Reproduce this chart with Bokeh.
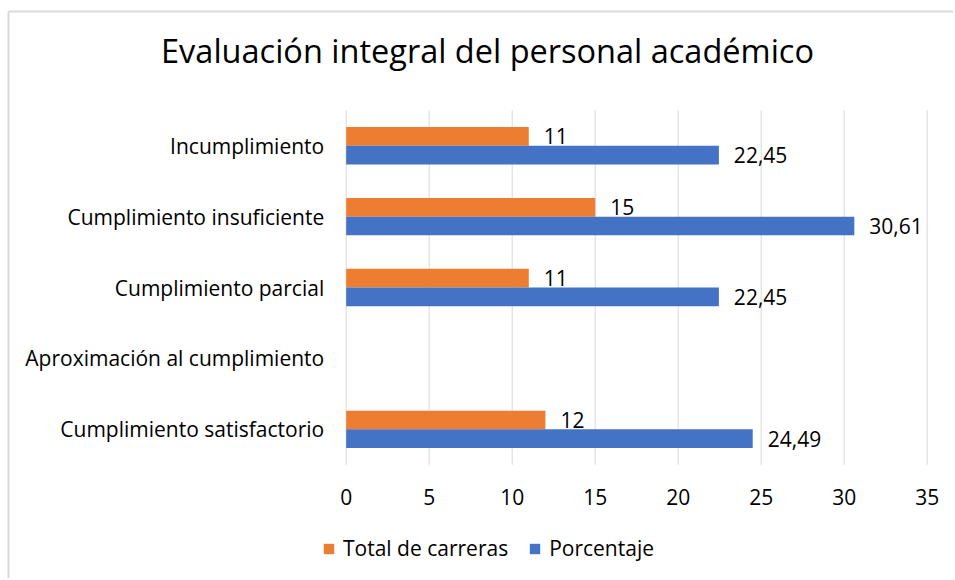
from bokeh.plotting import figure
from bokeh.models import ColumnDataSource, Range1d, Legend, LegendItem
from bokeh.embed import file_html
from bokeh.resources import INLINE
from bokeh.core.properties import value

# ---- data ----
categories = ["Incumplimiento", "Cumplimiento insuficiente", "Cumplimiento parcial",
              "Aproximación al cumplimiento", "Cumplimiento satisfactorio"]
total_carreras = [11, 15, 11, None, 12]
porcentaje = [22.45, 30.61, 22.45, None, 24.49]
x_ticks = [0, 5, 10, 15, 20, 25, 30, 35]
series_names = ["Total de carreras", "Porcentaje"]
title_text = "Evaluación integral del personal académico"

ORANGE = "#ED7D31"
BLUE = "#4472C4"
GRID = "#d9d9d9"
FONT = "Open Sans"

# ---- layout in canvas pixels ----
W, H = 953, 578
X0 = 345.7          # pixel of value 0
PX_PER_UNIT = 16.6  # pixels per value unit
PLOT_TOP = 109.8    # top of category band area
SLOT = 70.9         # pixels per category
n = len(categories)

def xd(px):
    return (px - X0) / PX_PER_UNIT

def yd(py):
    return n - (py - PLOT_TOP) / SLOT

def fmt(v):
    return ("%g" % v).replace(".", ",")

nan = float("nan")
bw = 0.264
centers = [n - 0.5 - i for i in range(n)]

bars = ColumnDataSource(dict(
    y_tot=[c + bw / 2 for c in centers],
    y_pct=[c - bw / 2 for c in centers],
    tot=[nan if v is None else v for v in total_carreras],
    pct=[nan if v is None else v for v in porcentaje],
))
lab_tot = ColumnDataSource(dict(
    y=[c + bw / 2 for c, v in zip(centers, total_carreras) if v is not None],
    x=[v for v in total_carreras if v is not None],
    t=[fmt(v) for v in total_carreras if v is not None],
))
lab_pct = ColumnDataSource(dict(
    y=[c - bw / 2 for c, v in zip(centers, porcentaje) if v is not None],
    x=[v for v in porcentaje if v is not None],
    t=[fmt(v) for v in porcentaje if v is not None],
))
cat_src = ColumnDataSource(dict(y=centers, x=[0] * n, t=categories))
tick_src = ColumnDataSource(dict(x=x_ticks, t=[str(t) for t in x_ticks]))

p = figure(width=W, height=H,
           x_range=Range1d(xd(0), xd(W)), y_range=Range1d(yd(H), yd(0)),
           output_backend="svg", toolbar_location=None,
           x_axis_location=None, y_axis_location=None,
           min_border=0)
p.outline_line_color = None
p.background_fill_color = "white"
p.border_fill_color = "white"
p.xgrid.visible = False
p.ygrid.visible = False
p.grid.grid_line_color = None

# chart-area border (left and top edges, as in the reference crop)
p.segment(x0=[xd(8), xd(8)], y0=[yd(11), yd(11)], x1=[xd(8), xd(W)], y1=[yd(H), yd(11)],
          line_color=GRID, line_width=2)

# title
p.text(x=[xd(487)], y=[yd(50)], text=[title_text], text_align="center",
       text_baseline="middle", text_font=value(FONT), text_font_size="32.5px",
       text_color="#000000")

# vertical gridlines
p.segment(x0=x_ticks, y0=[0] * len(x_ticks), x1=x_ticks, y1=[n] * len(x_ticks),
          line_color=GRID, line_width=1)

# bars
r_tot = p.hbar(y="y_tot", right="tot", left=0, height=bw, source=bars,
               color=ORANGE, line_color=None)
r_pct = p.hbar(y="y_pct", right="pct", left=0, height=bw, source=bars,
               color=BLUE, line_color=None)

# data labels
p.text(x="x", y="y", text="t", source=lab_tot, x_offset=15,
       text_baseline="middle", text_align="left",
       text_font=value(FONT), text_font_size="21px", text_color="#000000")
p.text(x="x", y="y", text="t", source=lab_pct, x_offset=15,
       text_baseline="middle", text_align="left",
       text_font=value(FONT), text_font_size="21px", text_color="#000000")

# category axis labels
p.text(x="x", y="y", text="t", source=cat_src, x_offset=-22,
       text_baseline="middle", text_align="right",
       text_font=value(FONT), text_font_size="21px", text_color="#000000")

# value axis tick labels
p.text(x="x", y=yd(496), text="t", source=tick_src,
       text_baseline="middle", text_align="center",
       text_font=value(FONT), text_font_size="21px", text_color="#000000")

legend = Legend(items=[LegendItem(label=series_names[0], renderers=[r_tot]),
                       LegendItem(label=series_names[1], renderers=[r_pct])],
                orientation="horizontal", location=(322, 16))
legend.border_line_color = None
legend.background_fill_alpha = 0
legend.label_text_font = FONT
legend.label_text_font_size = "21px"
legend.label_text_color = "#000000"
legend.glyph_width = 13
legend.glyph_height = 13
legend.label_standoff = 8
legend.spacing = 20
legend.padding = 2
legend.margin = 0
p.add_layout(legend, "center")

open("out.html", "w").write(file_html(p, INLINE))
